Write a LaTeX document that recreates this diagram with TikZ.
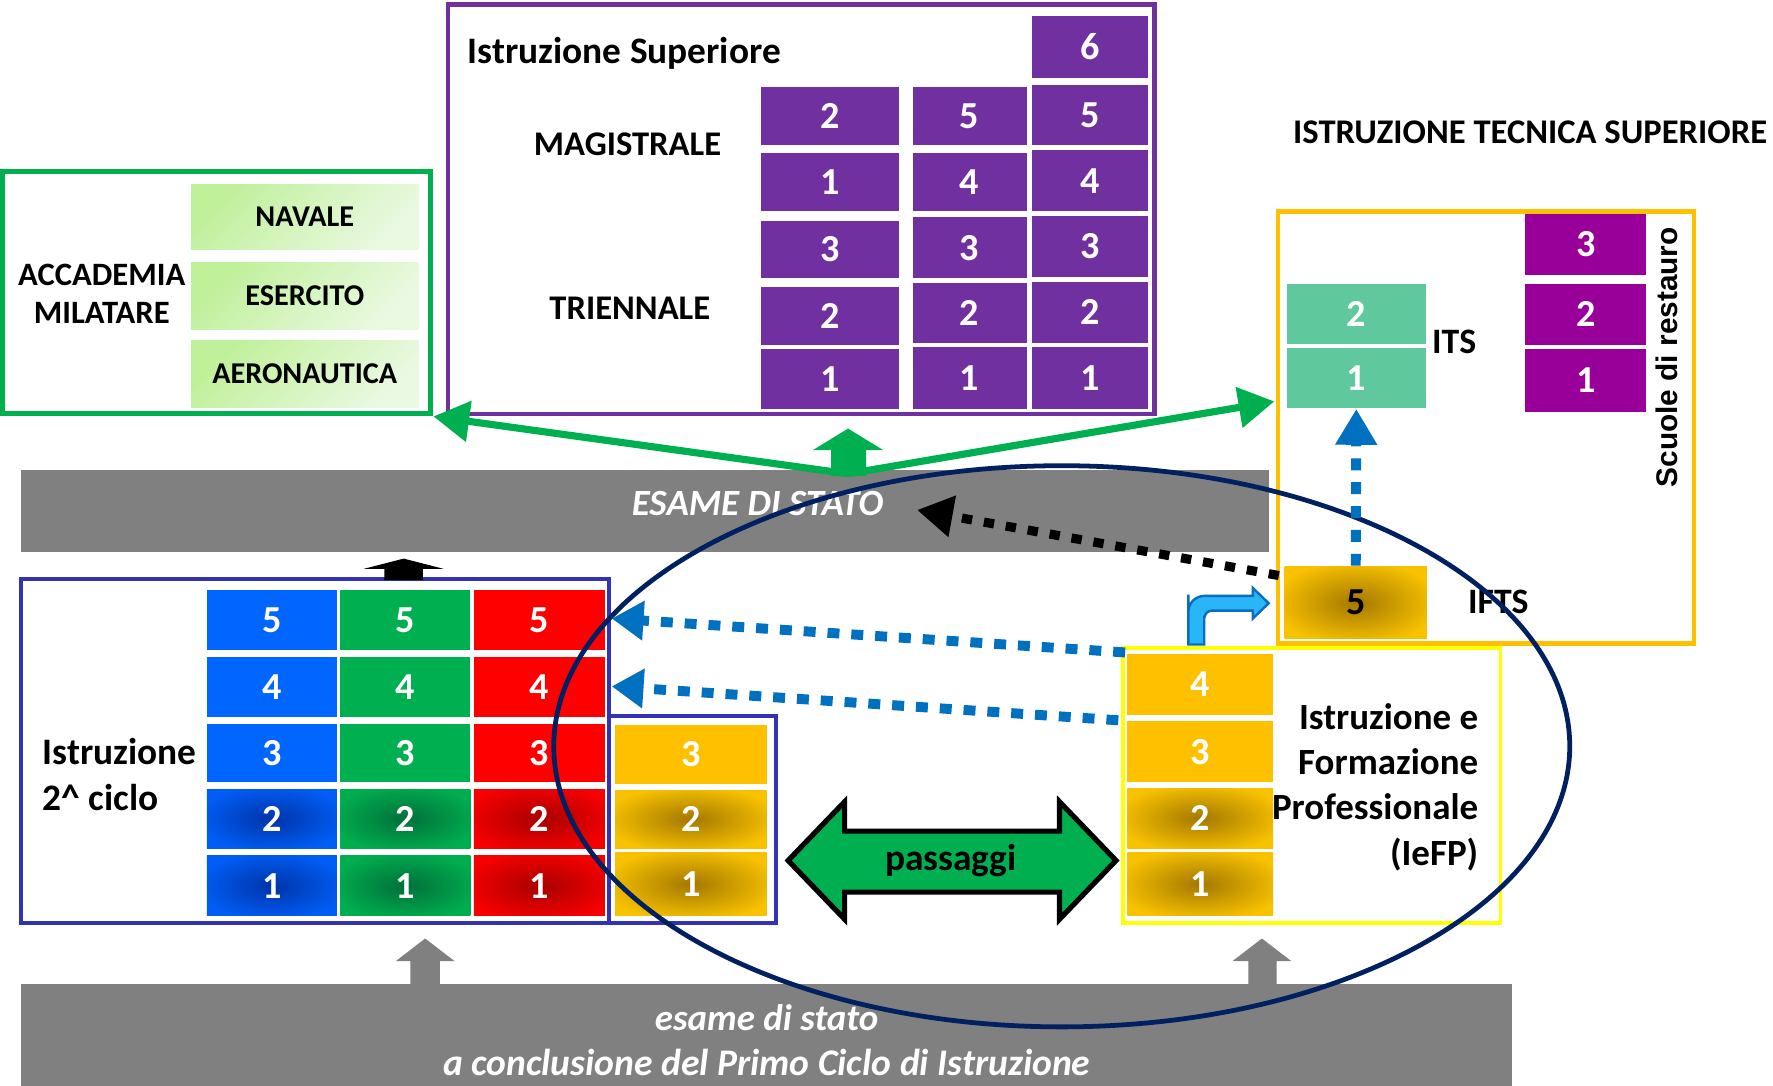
\documentclass[tikz,border=0pt]{standalone}
\usepackage{fontspec}
\setmainfont{Carlito}
\newfontfamily\restfont{Liberation Sans}
\usetikzlibrary{arrows.meta,shapes.geometric}
\definecolor{cpur}{HTML}{7030A0}
\definecolor{cgrn}{HTML}{00B050}
\definecolor{lgA}{HTML}{C0F09A}
\definecolor{lgB}{HTML}{EAF9E2}
\definecolor{corg}{HTML}{FFC000}
\definecolor{cteal}{HTML}{5FC89C}
\definecolor{cmag}{HTML}{990099}
\definecolor{cgold}{HTML}{FFC000}
\definecolor{cgoldB}{HTML}{F8C200}
\definecolor{cgoldD}{HTML}{A47800}
\definecolor{cblu}{HTML}{0066FF}
\definecolor{cbluB}{HTML}{005EF6}
\definecolor{cbluD}{HTML}{0034A8}
\definecolor{cgrnB}{HTML}{00AE4F}
\definecolor{cgrnD}{HTML}{00703A}
\definecolor{cred}{HTML}{FF0000}
\definecolor{credB}{HTML}{F60000}
\definecolor{credD}{HTML}{A80000}
\definecolor{cbox}{HTML}{3232B4}
\definecolor{cyel}{HTML}{FFFF00}
\definecolor{cnavy}{HTML}{002060}
\definecolor{cgray}{HTML}{808080}
\definecolor{cdot}{HTML}{0070C0}
\definecolor{ccyan}{HTML}{29B6F6}
\definecolor{ccyanD}{HTML}{0A6CC4}
\pgfdeclareradialshading{goldrad}{\pgfpoint{0bp}{0bp}}{color(0bp)=(cgoldD); color(13bp)=(cgoldD!55!cgoldB); color(29bp)=(cgoldB); color(50bp)=(cgoldB)}
\pgfdeclareradialshading{blurad}{\pgfpoint{0bp}{0bp}}{color(0bp)=(cbluD); color(13bp)=(cbluD!55!cbluB); color(29bp)=(cbluB); color(50bp)=(cbluB)}
\pgfdeclareradialshading{grnrad}{\pgfpoint{0bp}{0bp}}{color(0bp)=(cgrnD); color(13bp)=(cgrnD!55!cgrnB); color(29bp)=(cgrnB); color(50bp)=(cgrnB)}
\pgfdeclareradialshading{redrad}{\pgfpoint{0bp}{0bp}}{color(0bp)=(credD); color(13bp)=(credD!55!credB); color(29bp)=(credB); color(50bp)=(credB)}
\newcommand\cellat[7]{\node[cell,#6,minimum width={(#4-#2)*0.01cm},minimum height={(#5-#3)*0.01cm}] (#1) at ({(#2+#4)/2},{(#3+#5)/2}) {#7};}
\newcommand\boxat[6]{\node[frame,#6,minimum width={(#4-#2)*0.01cm},minimum height={(#5-#3)*0.01cm}] (#1) at ({(#2+#4)/2},{(#3+#5)/2}) {};}
\begin{document}
\begin{tikzpicture}[x=0.01cm,y=-0.01cm,
  every node/.style={font=\fontsize{9}{11}\selectfont\bfseries, inner sep=0pt},
  cell/.style={inner sep=0pt, text=white, font=\fontsize{9.6}{11}\selectfont\bfseries},
  frame/.style={draw, line width=1pt, inner sep=0pt, fill=none},
  lgcell/.style={top color=lgA, bottom color=lgB, shading angle=45, text=black, font=\fontsize{7.6}{9}\selectfont\bfseries},
  garrow/.style={draw=cgrn, line width=1.8pt, -{Triangle[length=9pt,width=10pt]}},
  bdot/.style={draw=cdot, line width=2.5pt, dash pattern=on 3pt off 3pt, -{Triangle[length=8pt,width=9.5pt]}},
  kdot/.style={draw=black, line width=2.3pt, dash pattern=on 2.6pt off 3pt, -{Triangle[length=9pt,width=10pt]}},
  band/.style={fill=cgray, draw=none, inner sep=0pt},
  bandtext/.style={text=white, font=\fontsize{9.3}{11.4}\selectfont\bfseries\itshape, align=center},
]
\useasboundingbox (0,0) rectangle (1568,960);
\fill[white] (0,0) rectangle (1568,960);

% gray bands
\node[band,minimum width={(1122-19)*0.01cm},minimum height={(488-416)*0.01cm}] (esame) at ({(19+1122)/2},{(416+488)/2}) {};
\node[bandtext] (esametxt) at (670,445) {ESAME DI STATO};
\node[band,minimum width={(1337-19)*0.01cm},minimum height={(960-870)*0.01cm}] (primo) at ({(19+1337)/2},{(870+960)/2}) {};
\node[bandtext] (primotxt1) at (678,900) {esame di stato};
\node[bandtext,font=\fontsize{9.45}{11.4}\selectfont\bfseries\itshape] (primotxt2) at (678,940) {a conclusione del Primo Ciclo di Istruzione};

% gray up arrows
\fill[cgray] (363,870) -- (363,850) -- (350,850) -- (376,830) -- (402,850) -- (389,850) -- (389,870) -- cycle;
\fill[cgray] (1104,870) -- (1104,850) -- (1090,850) -- (1116,830) -- (1142,850) -- (1129,850) -- (1129,870) -- cycle;

% Istruzione Superiore
\boxat{sup}{396}{4}{1021}{366}{draw=cpur,line width=1.1pt}
\node[anchor=west,font=\fontsize{9.4}{11}\selectfont\bfseries] (suptitle) at (413,47) {Istruzione Superiore};
\node[font=\fontsize{8.7}{11}\selectfont\bfseries] (mag) at (555,128) {MAGISTRALE};
\node[font=\fontsize{8.7}{11}\selectfont\bfseries] (tri) at (557,273) {TRIENNALE};
\cellat{pa2}{673}{77}{795}{128}{fill=cpur}{2}
\cellat{pa1}{673}{135}{795}{187}{fill=cpur}{1}
\cellat{pa3t}{673}{195}{795}{246}{fill=cpur}{3}
\cellat{pa2t}{673}{254}{795}{305}{fill=cpur}{2}
\cellat{pa1t}{673}{309}{795}{362}{fill=cpur}{1}
\cellat{pb5}{807}{77}{908}{128}{fill=cpur}{5}
\cellat{pb4}{807}{135}{908}{187}{fill=cpur}{4}
\cellat{pb3}{807}{192}{908}{246}{fill=cpur}{3}
\cellat{pb2}{807}{250}{908}{303}{fill=cpur}{2}
\cellat{pb1}{807}{307}{908}{362}{fill=cpur}{1}
\cellat{pc6}{913}{14}{1015}{69}{fill=cpur}{6}
\cellat{pc5}{913}{75}{1015}{128}{fill=cpur}{5}
\cellat{pc4}{913}{133}{1015}{187}{fill=cpur}{4}
\cellat{pc3}{913}{191}{1015}{245}{fill=cpur}{3}
\cellat{pc2}{913}{249}{1015}{303}{fill=cpur}{2}
\cellat{pc1}{913}{307}{1015}{362}{fill=cpur}{1}

% Accademia
\boxat{acc}{2}{152}{381}{366}{draw=cgrn,line width=1.3pt}
\node[align=center,font=\fontsize{8.2}{9.7}\selectfont\bfseries] (acctxt) at (90,260) {ACCADEMIA\\MILATARE};
\cellat{nav}{169}{163}{370}{221}{lgcell}{NAVALE}
\cellat{ese}{169}{232}{370}{291}{lgcell}{ESERCITO}
\cellat{aer}{169}{301}{370}{360}{lgcell}{AERONAUTICA}

% ITS area
\node[anchor=west,font=\fontsize{8.7}{11}\selectfont\bfseries] (itstitle) at (1143,117) {ISTRUZIONE TECNICA SUPERIORE};
\boxat{its}{1130}{187}{1498}{569}{draw=corg,line width=1.1pt}
\cellat{its2}{1138}{251}{1261}{304}{fill=cteal}{2}
\cellat{its1}{1138}{308}{1261}{361}{fill=cteal}{1}
\node (itslbl) at (1286,302) {ITS};
\cellat{sr3}{1349}{189}{1456}{243}{fill=cmag}{3}
\cellat{sr2}{1349}{251}{1456}{305}{fill=cmag}{2}
\cellat{sr1}{1349}{309}{1456}{364}{fill=cmag}{1}
\node[rotate=90,font=\fontsize{7.5}{9}\selectfont\restfont\bfseries] (srlbl) at (1474,316) {Scuole di restauro};
\cellat{ifts}{1136}{501}{1262}{565}{shading=goldrad,text=black}{5}
\node (iftslbl) at (1325,532) {IFTS};

% Istruzione 2 ciclo
\boxat{sec}{19}{512}{539}{816}{draw=cbox,line width=1pt}
\boxat{secx}{539}{633}{686}{816}{draw=cbox,line width=1pt}
\node[anchor=west,align=left,font=\fontsize{9.4}{11.4}\selectfont\bfseries] (sectxt) at (37,685) {Istruzione\\2\textasciicircum{} ciclo};
\cellat{b5}{183}{522}{298}{575}{fill=cblu}{5}
\cellat{b4}{183}{581}{298}{634}{fill=cblu}{4}
\cellat{b3}{183}{640}{298}{692}{fill=cblu}{3}
\cellat{b2}{183}{698}{298}{750}{shading=blurad}{2}
\cellat{b1}{183}{757}{298}{810}{shading=blurad}{1}
\cellat{g5}{301}{522}{416}{575}{fill=cgrn}{5}
\cellat{g4}{301}{581}{416}{634}{fill=cgrn}{4}
\cellat{g3}{301}{640}{416}{692}{fill=cgrn}{3}
\cellat{g2}{301}{698}{416}{750}{shading=grnrad}{2}
\cellat{g1}{301}{757}{416}{810}{shading=grnrad}{1}
\cellat{r5}{419}{522}{535}{575}{fill=cred}{5}
\cellat{r4}{419}{581}{535}{634}{fill=cred}{4}
\cellat{r3}{419}{640}{535}{692}{fill=cred}{3}
\cellat{r2}{419}{698}{535}{750}{shading=redrad}{2}
\cellat{r1}{419}{757}{535}{810}{shading=redrad}{1}
\cellat{y3}{544}{641}{678}{693}{fill=cgold}{3}
\cellat{y2}{544}{699}{678}{750}{shading=goldrad}{2}
\cellat{y1}{544}{754}{678}{810}{shading=goldrad}{1}
\fill[black] (340,513) -- (340,503) -- (322,503) -- (357,494) -- (392,503) -- (374,503) -- (374,513) -- cycle;

% IeFP
\boxat{iefp}{993}{573}{1327}{816}{draw=cyel,line width=1pt}
\cellat{f4}{997}{578}{1126}{632}{fill=cgold}{4}
\cellat{f3}{997}{638}{1126}{692}{fill=cgold}{3}
\cellat{f2}{997}{697}{1126}{750}{shading=goldrad}{2}
\cellat{f1}{997}{754}{1126}{810}{shading=goldrad}{1}
\node[anchor=east,align=right,font=\fontsize{9.3}{11.4}\selectfont\bfseries] (ieftxt) at (1308,696) {Istruzione e\\Formazione\\Professionale\\(IeFP)};

% passaggi double arrow
\draw[line width=1.3pt,fill=cgrn,line join=miter] (697,761) -- (747,709) -- (747,735) -- (937,735) -- (937,709) -- (987,761) -- (937,813) -- (937,789) -- (747,789) -- (747,813) -- cycle;
\node[font=\fontsize{9.4}{11}\selectfont\bfseries] (pass) at (841,761) {passaggi};

% green arrows
\coordinate (J) at (750,419);
\coordinate (gR) at (1127,355);
\draw[garrow] (J) -- (acc.south east);
\draw[garrow] (J) -- (gR);
\fill[cgrn] (735,421) -- (735,398) -- (719,398) -- (750,379) -- (781,398) -- (766,398) -- (766,421) -- cycle;

% ellipse
\node[draw=cnavy,line width=1.2pt,ellipse,minimum width=8.98cm,minimum height=4.96cm,inner sep=0pt] (ell) at (939,660) {};

% dotted arrows
\coordinate (kstart) at (1131,509);
\coordinate (ktip) at (811,451);
\draw[kdot] (kstart) -- (ktip);
\coordinate (bs1) at (995,577);
\coordinate (bt1) at (541,547);
\coordinate (bs2) at (989,637);
\coordinate (bt2) at (541,607);
\draw[bdot] (bs1) -- (bt1);
\draw[bdot] (bs2) -- (bt2);
\draw[bdot,-{Triangle[length=9pt,width=10pt]}] (ifts.north) -- (its1.south);

% bent blue arrow
\draw[fill=ccyan,draw=ccyanD,line width=0.6pt] (1051,570) [rounded corners=4pt] -- (1051,540) -- (1051,527) [sharp corners] -- (1108,527) -- (1108,520) -- (1122,533.5) -- (1108,547) -- (1108,540) [rounded corners=2pt] -- (1065,540) -- (1065,552) [sharp corners] -- (1065,570) -- cycle;
\end{tikzpicture}
\end{document}
